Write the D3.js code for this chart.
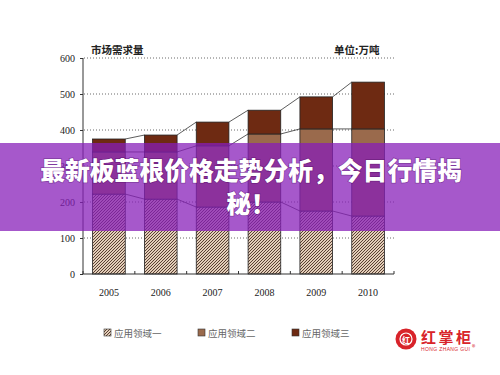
<!DOCTYPE html>
<html>
<head>
<meta charset="utf-8">
<script src="https://cdn.jsdelivr.net/npm/d3@7"></script>
<style>
  html, body { margin: 0; padding: 0; background: #fff; }
  svg { display: block; }
</style>
</head>
<body>
<div id="container"></div>
<script>
// chart data
const years = ['2005', '2006', '2007', '2008', '2009', '2010']
const field1 = [222, 208, 186, 200, 175, 161]
const field2 = [117, 131, 170, 189, 228, 242]
const field3 = [36, 47, 66, 66, 89, 130]
const seriesNames = ['应用领域一', '应用领域二', '应用领域三']
const yTicks = [0, 100, 200, 300, 400, 500, 600]

const width = 500
const height = 375

const svg = d3.select('#container').append('svg')
    .attr('width', width)
    .attr('height', height)

const defs = svg.append('defs')
const hatch = defs.append('pattern')
    .attr('id', 'hatch')
    .attr('patternUnits', 'userSpaceOnUse')
    .attr('width', 3)
    .attr('height', 3)
hatch.append('rect').attr('width', 3).attr('height', 3).attr('fill', '#e2cdb8')
hatch.append('path')
    .attr('d', 'M-1,1 l2,-2 M0,3 l3,-3 M2,4 l2,-2')
    .attr('stroke', '#4a3024')
    .attr('stroke-width', 0.9)

const colors = ['url(#hatch)', '#9a6a4c', '#6e2a12']

const x = d3.scaleBand()
    .domain(years)
    .range([83, 394])
    .paddingInner(0.37)
    .paddingOuter(0.185)

const y = d3.scaleLinear()
    .domain([0, 600])
    .range([274, 58])

// rows for stacking
const rows = years.map((yr, i) => ({year: yr, a: field1[i], b: field2[i], c: field3[i]}))
const stack = d3.stack().keys(['a', 'b', 'c'])(rows)

// grid
svg.append('g')
    .selectAll('line')
    .data(yTicks.filter(d => d > 0))
    .enter()
    .append('line')
    .attr('x1', 84)
    .attr('x2', 394)
    .attr('y1', d => y(d))
    .attr('y2', d => y(d))
    .attr('stroke', '#444')
    .attr('stroke-width', 0.8)
    .attr('stroke-dasharray', '1,2')

// series lines between bars
stack.forEach(layer => {
    for (let i = 0; i < layer.length - 1; i++) {
        svg.append('line')
            .attr('x1', x(years[i]) + x.bandwidth())
            .attr('y1', y(layer[i][1]))
            .attr('x2', x(years[i + 1]))
            .attr('y2', y(layer[i + 1][1]))
            .attr('stroke', '#333')
            .attr('stroke-width', 0.8)
    }
})

// bars
stack.forEach((layer, k) => {
    svg.append('g')
        .selectAll('rect')
        .data(layer)
        .enter()
        .append('rect')
        .attr('x', d => x(d.data.year))
        .attr('y', d => y(d[1]))
        .attr('width', x.bandwidth())
        .attr('height', d => y(d[0]) - y(d[1]))
        .attr('fill', colors[k])
        .attr('stroke', '#222')
        .attr('stroke-width', 0.8)
})

// axes
const yAxis = d3.axisLeft(y).tickValues(yTicks).tickSize(3).tickPadding(5)
const gy = svg.append('g')
    .attr('transform', 'translate(83,0)')
    .call(yAxis)
gy.select('.domain').attr('stroke', '#333').attr('d', 'M0,' + y(600) + 'V' + y(0))
gy.selectAll('.tick line').attr('stroke', '#333')
gy.selectAll('text')
    .attr('font-family', 'Liberation Serif, serif')
    .attr('font-size', 10)
    .attr('fill', '#222')

svg.append('line')
    .attr('x1', 83).attr('x2', 394)
    .attr('y1', y(0)).attr('y2', y(0))
    .attr('stroke', '#333').attr('stroke-width', 1.2)

// small ticks between categories
const step = x.step()
svg.append('g')
    .selectAll('line')
    .data(d3.range(years.length + 1))
    .enter()
    .append('line')
    .attr('x1', d => 83 + d * step)
    .attr('x2', d => 83 + d * step)
    .attr('y1', y(0))
    .attr('y2', y(0) - 3)
    .attr('stroke', '#333')

svg.append('g')
    .selectAll('text')
    .data(years)
    .enter()
    .append('text')
    .attr('x', d => x(d) + x.bandwidth() / 2)
    .attr('y', 296)
    .attr('text-anchor', 'middle')
    .attr('font-family', 'Liberation Serif, serif')
    .attr('font-size', 10)
    .attr('fill', '#222')
    .text(d => d)

// headings
svg.append('text')
    .attr('x', 91).attr('y', 54)
    .attr('font-family', 'Noto Sans CJK SC')
    .attr('font-size', 10.5)
    .attr('font-weight', 'bold')
    .attr('fill', '#222')
    .text('市场需求量')
svg.append('text')
    .attr('x', 334).attr('y', 54)
    .attr('font-family', 'Noto Sans CJK SC')
    .attr('font-size', 10.5)
    .attr('font-weight', 'bold')
    .attr('fill', '#222')
    .text('单位:万吨')

// legend
const legend = svg.append('g')
    .selectAll('g')
    .data(seriesNames)
    .enter()
    .append('g')
    .attr('transform', (d, i) => `translate(${104 + i * 94},329)`)
legend.append('rect')
    .attr('width', 7).attr('height', 7)
    .attr('fill', (d, i) => colors[i])
    .attr('stroke', '#333').attr('stroke-width', 0.6)
legend.append('text')
    .attr('x', 10).attr('y', 7.5)
    .attr('font-family', 'Noto Sans CJK SC')
    .attr('font-size', 9.5)
    .attr('fill', '#666')
    .text(d => d)

// logo
const logo = svg.append('g')
logo.append('circle').attr('cx', 406).attr('cy', 339).attr('r', 10.5).attr('fill', '#d8232a')
logo.append('circle').attr('cx', 406).attr('cy', 339).attr('r', 6).attr('fill', 'none')
    .attr('stroke', '#fff').attr('stroke-width', 1.2)
logo.append('text')
    .attr('x', 406).attr('y', 342.5)
    .attr('text-anchor', 'middle')
    .attr('font-family', 'Noto Sans CJK SC')
    .attr('font-size', 8).attr('font-weight', 'bold')
    .attr('fill', '#fff')
    .text('红')
logo.append('text')
    .attr('x', 421).attr('y', 343)
    .attr('font-family', 'Noto Sans CJK SC')
    .attr('font-size', 15).attr('font-weight', 'bold')
    .attr('fill', '#d8232a')
    .attr('textLength', 50)
    .text('红掌柜')
logo.append('text')
    .attr('x', 421).attr('y', 350.5)
    .attr('font-family', 'Liberation Sans, sans-serif')
    .attr('font-size', 5)
    .attr('fill', '#d8232a')
    .attr('textLength', 49)
    .text('HONG ZHANG GUI')
logo.append('text')
    .attr('x', 472).attr('y', 350)
    .attr('font-family', 'Noto Sans CJK SC')
    .attr('font-size', 7)
    .attr('fill', '#d8232a')
    .text('®')

// title banner
svg.append('rect')
    .attr('x', 0).attr('y', 143)
    .attr('width', width).attr('height', 88)
    .attr('fill', 'rgb(135,30,185)')
    .attr('fill-opacity', 0.74)

const titleLines = ['最新板蓝根价格走势分析，今日行情揭', '秘！']
svg.append('g')
    .selectAll('text')
    .data(titleLines)
    .enter()
    .append('text')
    .attr('x', 251)
    .attr('y', (d, i) => 180 + i * 33)
    .attr('text-anchor', 'middle')
    .attr('font-family', 'Noto Sans CJK SC')
    .attr('font-size', 24.8)
    .attr('font-weight', 900)
    .attr('fill', '#fff')
    .style('paint-order', 'stroke')
    .attr('stroke', 'rgba(60,0,80,0.35)')
    .attr('stroke-width', 1.5)
    .text(d => d)
</script>
</body>
</html>
